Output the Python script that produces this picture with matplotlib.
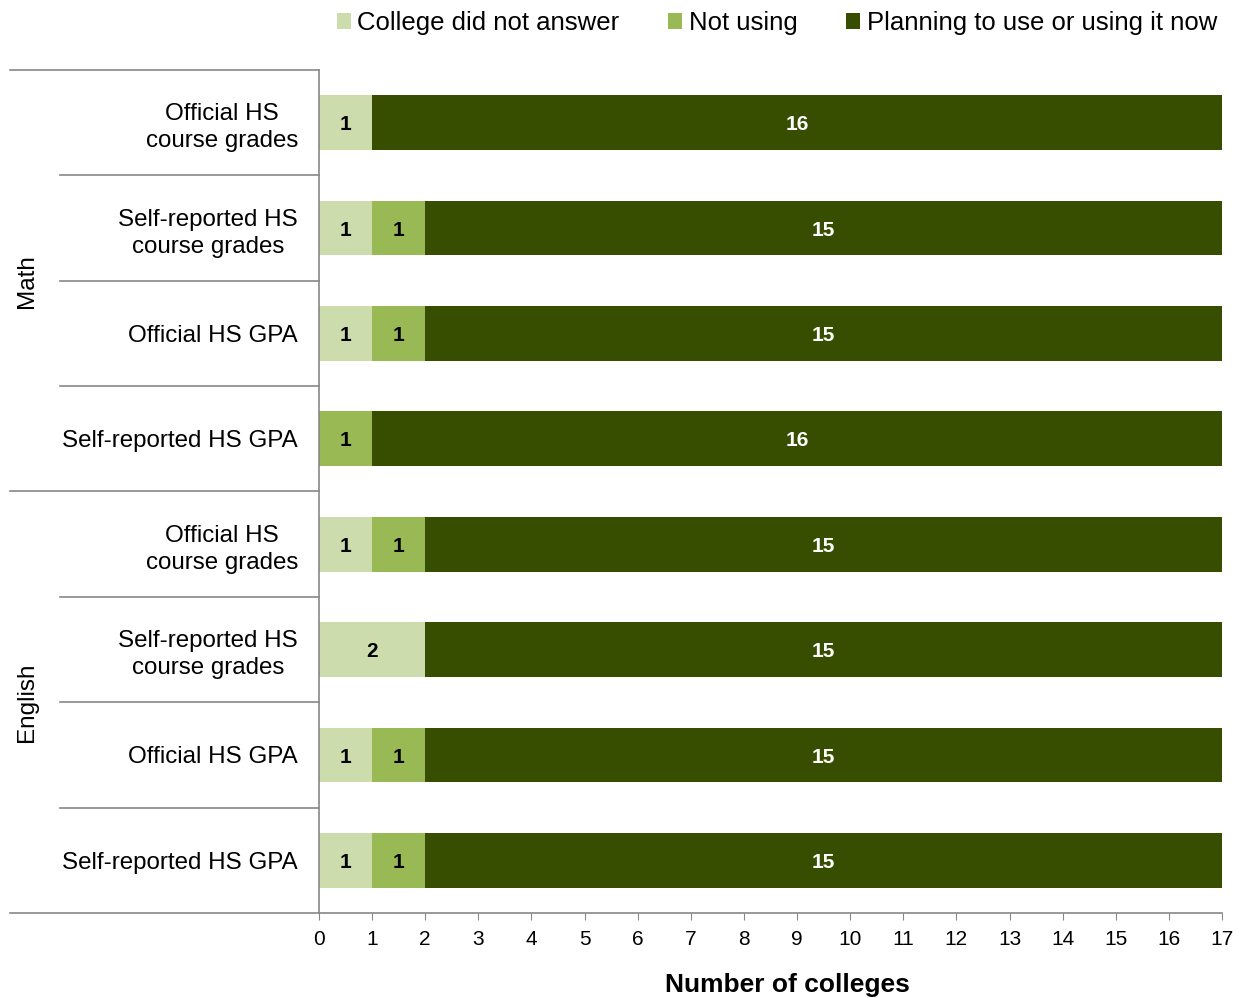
import matplotlib.pyplot as plt
from matplotlib.lines import Line2D

plt.rcParams['font.family'] = ['Liberation Sans', 'DejaVu Sans']

categories = [
    "Official HS\ncourse grades",
    "Self-reported HS\ncourse grades",
    "Official HS GPA",
    "Self-reported HS GPA",
    "Official HS\ncourse grades",
    "Self-reported HS\ncourse grades",
    "Official HS GPA",
    "Self-reported HS GPA",
]
groups = ["Math", "English"]
no_answer = [1, 1, 1, 0, 1, 2, 1, 1]
not_using = [0, 1, 1, 1, 1, 0, 1, 1]
using_now = [16, 15, 15, 16, 15, 15, 15, 15]
series_names = ["College did not answer", "Not using", "Planning to use or using it now"]

colors = ["#cddcad", "#98b954", "#374e00"]
label_colors = ["black", "black", "white"]

fig = plt.figure(figsize=(12.43, 9.98), dpi=100)
ax = fig.add_axes([0.2566, 0.0852, 0.9831 - 0.2566, 0.9299 - 0.0852])

n = len(categories)
y = list(range(n))
left = [0] * n
for vals, col, lc, name in zip([no_answer, not_using, using_now], colors, label_colors, series_names):
    ax.barh(y, vals, left=left, color=col, height=0.52, label=name)
    for i, v in enumerate(vals):
        if v > 0:
            ax.text(left[i] + v / 2, i + 0.02, str(v), ha="center", va="center",
                    color=lc, fontsize=15, fontweight="bold")
    left = [a + b for a, b in zip(left, vals)]

ax.set_ylim(n - 0.5, -0.5)
ax.set_xlim(0, 17)
ax.set_xticks(range(18))
ax.set_yticks(y)
ax.set_yticklabels(categories, fontsize=17.4, multialignment="center", linespacing=1.3)
ax.tick_params(axis="y", length=0, pad=15)
ax.tick_params(axis="x", labelsize=15, color="#888888", length=5, pad=7)
for s in ["top", "right"]:
    ax.spines[s].set_visible(False)
ax.spines["left"].set_color("#888888")
ax.spines["bottom"].set_color("#888888")
ax.spines["left"].set_linewidth(1.2)
ax.spines["bottom"].set_linewidth(1.2)

ax.set_xlabel("Number of colleges", fontsize=19, fontweight="bold")
ax.xaxis.set_label_coords((787 - 319) / 903, -0.071)

# row separators and group brackets on the left
ax_x0 = 319.0
def fx(px):
    return (px - ax_x0) / (1222 - ax_x0) * 17
for b in range(n + 1):
    yb = b - 0.5
    x_start = 10 if b % 4 == 0 else 60
    ax.add_line(Line2D([fx(x_start), 0], [yb, yb], color="#888888", lw=1.2, clip_on=False))

for gi, g in enumerate(groups):
    ax.text(fx(27), gi * 4 + 1.5, g, rotation=90, ha="center", va="center", fontsize=17.5)

leg = ax.legend(loc="upper right", bbox_to_anchor=(1.006, 1.082), ncol=3, frameon=False,
                fontsize=18.5, handlelength=0.55, handleheight=0.55, handletextpad=0.25,
                columnspacing=1.9, borderaxespad=0)

fig.savefig("out.png", dpi=100)
